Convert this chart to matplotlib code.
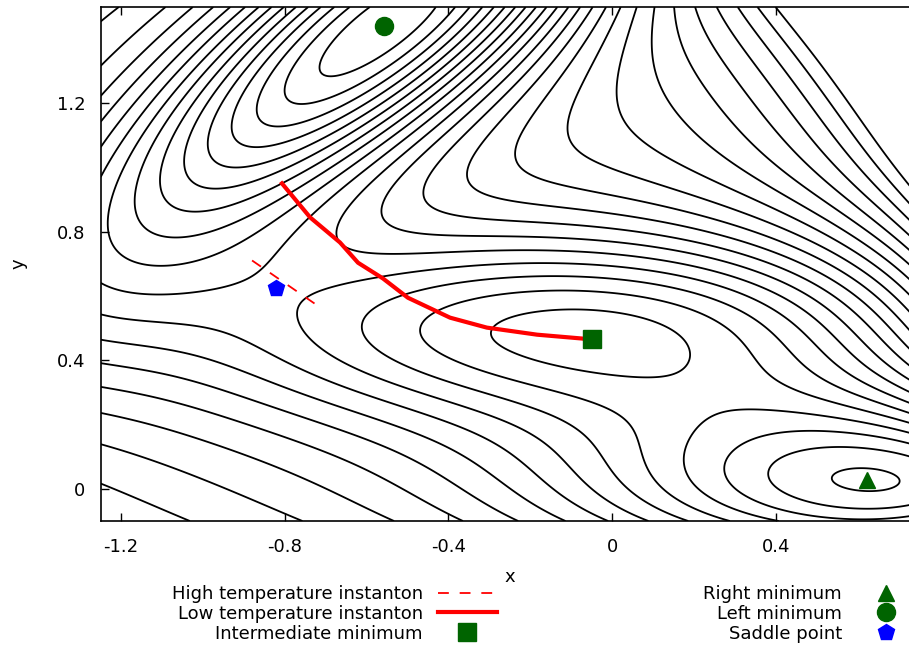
import numpy as np
import matplotlib
matplotlib.use("Agg")
import matplotlib.pyplot as plt

plt.rcParams['font.family'] = ['DejaVu Sans']
plt.rcParams['font.size'] = 13

# Mueller-Brown potential parameters
A = np.array([-200, -100, -170, 15])
a = np.array([-1, -1, -6.5, 0.7])
b = np.array([0, 0, 11, 0.6])
c = np.array([-10, -10, -6.5, 0.7])
x0 = np.array([1, 0, -0.5, -1])
y0 = np.array([0, 0.5, 1.5, 1])

# contour levels (step)
level_step = 10.63
level_k = np.arange(-13, 11)

# stationary points
right_min = (0.623, 0.028)
left_min = (-0.558, 1.442)
inter_min = (-0.050, 0.467)
saddle = (-0.822, 0.624)

# instantons
low_x = [-0.807, -0.738, -0.665, -0.621, -0.560, -0.499, -0.396, -0.306, -0.183, -0.073, -0.051]
low_y = [0.951, 0.845, 0.767, 0.704, 0.655, 0.595, 0.533, 0.502, 0.480, 0.468, 0.464]
high_x = [-0.880, -0.709]
high_y = [0.711, 0.561]


def V(x, y):
    x = np.asarray(x)[..., None]
    y = np.asarray(y)[..., None]
    return (A * np.exp(a*(x-x0)**2 + b*(x-x0)*(y-y0) + c*(y-y0)**2)).sum(-1)


gx, gy = np.meshgrid(np.linspace(-1.25, 0.75, 500), np.linspace(-0.1, 1.5, 500))
gz = V(gx, gy)

fig = plt.figure(figsize=(9.09, 6.49), dpi=100)
ax = fig.add_axes([0.1108, 0.1972, 0.9, 0.792])

ax.contour(gx, gy, gz, levels=level_k*level_step, colors='black', linewidths=1.3, linestyles='solid')

dashed, = ax.plot(high_x, high_y, color='red', lw=1.3, ls=(0, (6, 6)))
solid, = ax.plot(low_x, low_y, color='red', lw=3)
sq, = ax.plot(*inter_min, 's', color='#006400', ms=13, ls='none')
tri, = ax.plot(*right_min, '^', color='#006400', ms=11, ls='none')
circ, = ax.plot(*left_min, 'o', color='#006400', ms=13, ls='none')
pent, = ax.plot(*saddle, 'p', color='blue', ms=12, ls='none')

ax.set_xlim(-1.25, 0.75)
ax.set_ylim(-0.1, 1.5)
ax.set_xticks([-1.2, -0.8, -0.4, 0, 0.4])
ax.set_xticklabels(['-1.2', '-0.8', '-0.4', '0', '0.4'])
ax.set_yticks([0, 0.4, 0.8, 1.2])
ax.set_yticklabels(['0', '0.4', '0.8', '1.2'])
ax.tick_params(axis='x', direction='in', length=6, width=1, top=True, pad=12)
ax.tick_params(axis='y', direction='in', length=6, width=1, right=True, pad=11)
for s in ax.spines.values():
    s.set_linewidth(1.2)
ax.set_xlabel('x', labelpad=9)
ax.set_ylabel('y', labelpad=21)

kw = dict(frameon=False, markerfirst=False, handlelength=3.27, handletextpad=0.83,
          labelspacing=0.1, borderpad=0, borderaxespad=0, fontsize=13, numpoints=1,
          bbox_transform=fig.transFigure, loc='upper right')
leg1 = fig.legend([dashed, solid, sq],
                  ['High temperature instanton', 'Low temperature instanton', 'Intermediate minimum'],
                  bbox_to_anchor=(497/909, 1-585/649), **kw)
leg2 = fig.legend([tri, circ, pent], ['Right minimum', 'Left minimum', 'Saddle point'],
                  bbox_to_anchor=(916/909, 1-585/649), **kw)

fig.savefig('out.png')
